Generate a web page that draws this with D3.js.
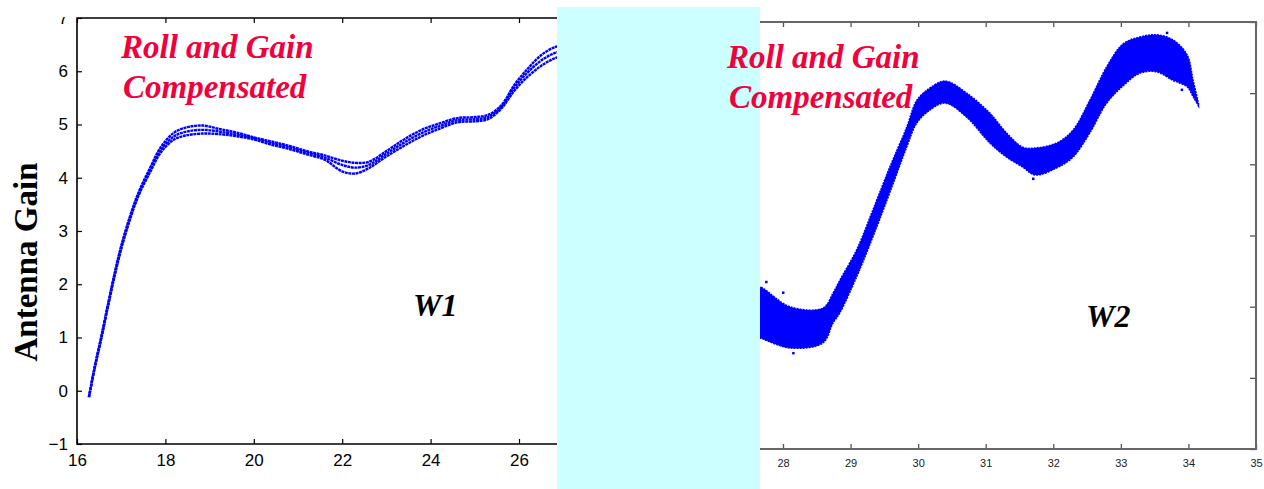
<!DOCTYPE html>
<html><head><meta charset="utf-8">
<script src="https://cdn.jsdelivr.net/npm/d3@7"></script>
<style>body{margin:0;background:#fff}svg{display:block}</style>
</head><body>
<svg id="c" width="1264" height="489"></svg>
<script>
// ---- data ----
const leftX     = [16.27,16.4,16.55,16.7,16.85,17.0,17.2,17.4,17.65,17.9,18.2,18.5,18.85,19.2,19.6,20.0,20.4,20.8,21.2,21.6,22.0,22.3,22.6,23.0,23.4,23.8,24.2,24.6,25.0,25.3,25.6,25.9,26.2,26.5,26.8,27.1];
const leftUpper = [-0.12,0.45,1.02,1.62,2.2,2.72,3.28,3.74,4.18,4.58,4.85,4.95,4.98,4.92,4.85,4.76,4.68,4.6,4.5,4.42,4.32,4.28,4.3,4.5,4.72,4.9,5.02,5.12,5.14,5.18,5.36,5.75,6.05,6.3,6.45,6.5];
const leftMid   = [-0.12,0.44,1.0,1.6,2.18,2.69,3.25,3.71,4.14,4.53,4.78,4.87,4.9,4.87,4.81,4.74,4.65,4.57,4.47,4.38,4.24,4.19,4.24,4.45,4.66,4.84,4.97,5.08,5.1,5.14,5.33,5.7,5.98,6.2,6.34,6.4];
const leftLower = [-0.12,0.42,0.98,1.58,2.15,2.66,3.22,3.68,4.1,4.48,4.72,4.8,4.83,4.82,4.78,4.72,4.62,4.54,4.44,4.34,4.12,4.08,4.18,4.4,4.6,4.78,4.92,5.04,5.06,5.1,5.3,5.64,5.9,6.1,6.24,6.3];

const rightX      = [27.5,27.66,28.1,28.59,28.74,28.84,29.09,29.33,29.58,29.83,29.98,30.17,30.4,30.72,31.06,31.31,31.55,31.73,32.05,32.29,32.54,32.79,33.03,33.28,33.53,33.77,33.98,34.07,34.15];
const rightTop    = [2.3,2.28,2.0,1.98,2.19,2.37,2.8,3.36,3.96,4.52,4.9,5.07,5.17,5.0,4.72,4.44,4.24,4.23,4.3,4.48,4.9,5.37,5.69,5.79,5.82,5.75,5.54,5.18,4.85];
const rightBottom = [1.6,1.56,1.42,1.49,1.77,1.91,2.42,2.98,3.6,4.24,4.58,4.76,4.86,4.66,4.3,4.1,3.96,3.85,3.95,4.1,4.44,4.86,5.1,5.28,5.3,5.18,5.09,4.95,4.82];
const rightOutX   = [27.75,28.0,33.68,34.12,33.9,28.15,31.7];
const rightOutY   = [2.35,2.2,5.85,4.9,5.05,1.35,3.8];

const leftXTicks  = [16,18,20,22,24,26,28];
const leftYTicks  = [-1,0,1,2,3,4,5,6,7];
const rightXTicks = [28,29,30,31,32,33,34,35];
const rightYTicks = [0,1,2,3,4,5,6];

const yLabel = "Antenna Gain";
const note1 = "Roll and Gain", note2 = "Compensated";
const w1 = "W1", w2 = "W2";

// ---- drawing ----
const svg = d3.select("#c");
const defs = svg.append("defs");
defs.append("clipPath").attr("id","clipL").append("rect").attr("x",77).attr("y",18).attr("width",480).attr("height",426);
defs.append("clipPath").attr("id","clipR").append("rect").attr("x",700).attr("y",22).attr("width",556).attr("height",427);
defs.append("clipPath").attr("id","clipTop").append("rect").attr("x",-200).attr("y",17).attr("width",1400).attr("height",480);

// Left panel
const xL = d3.scaleLinear().domain([16,28]).range([77, 77+12*44.2]);
const yL = d3.scaleLinear().domain([-1,7]).range([444,18]);

const gL = svg.append("g");
const axStyle = (g, col, w) => { g.select(".domain").remove(); g.selectAll("line").attr("stroke",col).attr("stroke-width",w); };

// bottom
gL.append("g").attr("transform","translate(0,444)")
  .call(d3.axisBottom(xL).tickValues(leftXTicks).tickSize(-5).tickPadding(10).tickFormat(d3.format("d")))
  .call(g=>{axStyle(g,"#000",1.2); g.selectAll("text").attr("font-family","Liberation Sans, Arial, sans-serif").attr("font-size",17).attr("fill","#000");});
// top
gL.append("g").attr("transform","translate(0,18)")
  .call(d3.axisTop(xL).tickValues(leftXTicks).tickSize(-5).tickFormat(""))
  .call(g=>axStyle(g,"#000",1.2));
// left
gL.append("g").attr("transform","translate(77,0)").attr("clip-path","url(#clipTop)")
  .call(d3.axisLeft(yL).tickValues(leftYTicks).tickSize(-5).tickPadding(9).tickFormat(d=>d<0?"\u2212"+(-d):d))
  .call(g=>{axStyle(g,"#000",1.2); g.selectAll("text").attr("font-family","Liberation Sans, Arial, sans-serif").attr("font-size",17).attr("fill","#000");});
// frame
gL.append("path").attr("d",`M${xL.range()[1]},18H77V444H${xL.range()[1]}`).attr("fill","none").attr("stroke","#000").attr("stroke-width",1.6);

const lineL = (ys)=>d3.line().x((d,i)=>xL(leftX[i])).y(d=>yL(d)).curve(d3.curveCatmullRom)(ys);
const dataL = gL.append("g").attr("clip-path","url(#clipL)");
[leftUpper,leftMid,leftLower].forEach(ys=>{
  dataL.append("path").attr("d",lineL(ys)).attr("fill","none").attr("stroke","#0000ff").attr("stroke-width",2.4).attr("stroke-dasharray","3,0.6");
});

// Right panel
const xR = d3.scaleLinear().domain([28,35]).range([783,1256]);
const yR = d3.scaleLinear().domain([0,6]).range([449,22]);
const gR = svg.append("g");
gR.append("g").attr("transform","translate(0,449)")
  .call(d3.axisBottom(xR).tickValues(rightXTicks).tickSize(-5).tickPadding(10).tickFormat(d3.format("d")))
  .call(g=>{axStyle(g,"#555",1.3); g.selectAll("text").attr("font-family","Liberation Sans, Arial, sans-serif").attr("font-size",11).attr("fill","#222");});
gR.append("g").attr("transform","translate(0,22)")
  .call(d3.axisTop(xR).tickValues(rightXTicks).tickSize(-5).tickFormat(""))
  .call(g=>axStyle(g,"#555",1.3));
gR.append("g").attr("transform","translate(1256,0)")
  .call(d3.axisRight(yR).tickValues(rightYTicks).tickSize(-6).tickFormat(""))
  .call(g=>axStyle(g,"#555",1.3));
gR.append("path").attr("d","M700,22H1256V449H700").attr("fill","none").attr("stroke","#666").attr("stroke-width",2);

const dataR = gR.append("g").attr("clip-path","url(#clipR)");
const areaR = d3.area().x((d,i)=>xR(rightX[i])).y0((d,i)=>yR(rightBottom[i])).y1(d=>yR(d)).curve(d3.curveCatmullRom);
dataR.append("path").attr("d",areaR(rightTop)).attr("fill","#0000ff").attr("stroke","#0000ff").attr("stroke-width",1.5).attr("stroke-dasharray","2,1");
dataR.selectAll("rect.o").data(rightOutX).join("rect").attr("class","o")
  .attr("x",(d)=>xR(d)-1).attr("y",(d,i)=>yR(rightOutY[i])-1).attr("width",2.5).attr("height",2.5).attr("fill","#0000ff");

// cyan overlay
svg.append("rect").attr("x",557).attr("y",7).attr("width",203).attr("height",482).attr("fill","#ccffff");

// y label
svg.append("text").attr("transform","translate(37,262) rotate(-90)").attr("text-anchor","middle")
  .attr("font-family","Liberation Serif, Times New Roman, serif").attr("font-weight","bold").attr("font-size",33).attr("fill","#000").text(yLabel);

// annotations
const red = "#f2003c";
const note = (x,y1,y2)=>{
  const t = svg.append("text").attr("font-family","Liberation Serif, Times New Roman, serif").attr("font-weight","bold").attr("font-style","italic").attr("font-size",33).attr("fill",red);
  t.append("tspan").attr("x",x).attr("y",y1).text(note1);
  t.append("tspan").attr("x",x+2).attr("y",y2).text(note2);
};
note(121,58,98);
note(727,68,108);
const wtxt = (x,y,s)=>svg.append("text").attr("x",x).attr("y",y).attr("font-family","Liberation Serif, Times New Roman, serif").attr("font-weight","bold").attr("font-style","italic").attr("font-size",32).attr("fill","#000").text(s);
wtxt(413,316,w1);
wtxt(1086,327,w2);
</script>
</body></html>
